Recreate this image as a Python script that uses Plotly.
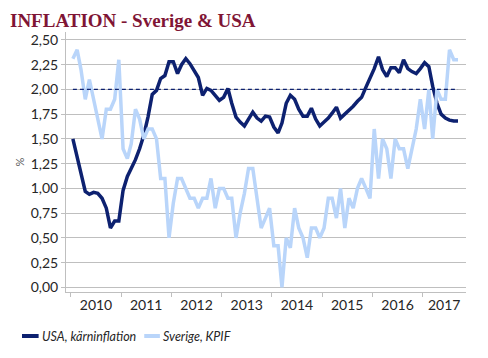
import plotly.graph_objects as go
import pandas as pd

# ---- data (monthly, Jan 2010 - Sep 2017) ----
months = pd.date_range("2010-01-01", periods=93, freq="MS") + pd.Timedelta(days=14)

usa_core = [
    1.50, 1.32, 1.13, 0.97, 0.94, 0.96, 0.95, 0.90, 0.80, 0.60, 0.67, 0.67,
    0.98, 1.12, 1.20, 1.29, 1.40, 1.54, 1.72, 1.95, 1.99, 2.11, 2.14, 2.28,
    2.28, 2.16, 2.25, 2.31, 2.26, 2.19, 2.12, 1.94, 2.01, 1.99, 1.94, 1.89,
    1.92, 2.01, 1.86, 1.72, 1.67, 1.63, 1.70, 1.77, 1.71, 1.68, 1.73, 1.72,
    1.62, 1.56, 1.66, 1.86, 1.94, 1.90, 1.80, 1.73, 1.73, 1.81, 1.70, 1.63,
    1.67, 1.71, 1.76, 1.82, 1.71, 1.75, 1.78, 1.83, 1.88, 1.92, 2.02, 2.11,
    2.21, 2.33, 2.20, 2.13, 2.22, 2.22, 2.17, 2.30, 2.21, 2.18, 2.16, 2.21,
    2.27, 2.23, 2.03, 1.86, 1.75, 1.71, 1.69, 1.68, 1.68,
]

swe_kpif = [
    2.31, 2.40, 2.20, 1.90, 2.10, 1.90, 1.70, 1.50, 1.80, 1.80, 1.90, 2.30,
    1.40, 1.30, 1.45, 1.80, 1.70, 1.50, 1.60, 1.60, 1.50, 1.10, 1.10, 0.50,
    0.85, 1.10, 1.10, 1.00, 0.90, 0.90, 0.80, 0.90, 0.90, 1.10, 0.80, 1.00,
    1.00, 0.90, 0.90, 0.50, 0.75, 0.95, 1.20, 1.20, 0.90, 0.60, 0.70, 0.80,
    0.42, 0.42, 0.00, 0.50, 0.40, 0.80, 0.60, 0.50, 0.30, 0.60, 0.60, 0.50,
    0.60, 0.90, 0.90, 0.70, 1.00, 0.60, 0.90, 0.80, 1.00, 1.10, 1.00, 0.90,
    1.60, 1.10, 1.50, 1.40, 1.10, 1.50, 1.40, 1.40, 1.20, 1.40, 1.60, 1.90,
    1.60, 2.00, 1.50, 2.00, 1.90, 1.90, 2.40, 2.30, 2.30,
]

target = 2.00
y_ticks = [0.00, 0.25, 0.50, 0.75, 1.00, 1.25, 1.50, 1.75, 2.00, 2.25, 2.50]
year_labels = ["2010", "2011", "2012", "2013", "2014", "2015", "2016", "2017"]
# label anchor dates (centre of each year's visible span)
year_label_dates = ["2010-07-02", "2011-07-02", "2012-07-02", "2013-07-02",
                    "2014-07-02", "2015-07-02", "2016-07-02", "2017-06-06"]
series_names = ["USA, kärninflation", "Sverige, KPIF"]

DARK = "#0D2170"
LIGHT = "#B9D5FA"
GRID = "#BFBFBF"
TXT = "#262626"

fig = go.Figure()
fig.add_trace(go.Scatter(x=months, y=usa_core, mode="lines", name=series_names[0],
                         line=dict(color=DARK, width=3.5), showlegend=False))
fig.add_trace(go.Scatter(x=months, y=swe_kpif, mode="lines", name=series_names[1],
                         line=dict(color=LIGHT, width=3.5), showlegend=False))

# target dashed line
fig.add_shape(type="line", xref="x", yref="y", x0=months[0], x1=months[-1],
              y0=target, y1=target, line=dict(color=DARK, width=1.3, dash="4px,3px"),
              layer="above")

# page offset (browser body margin) compensation
OFF = 8
W, H = 488 - OFF, 358 - OFF
L, R, T, B = 57 - OFF, 22, 32 - OFF, 66
pw, ph = W - L - R, H - T - B

def px(xp):
    return (xp - OFF - L) / pw

def py(yp):
    return (H - B - (yp - OFF)) / ph

# custom legend
leg_y = 336
items = [(12, 29, 30, DARK, series_names[0]), (137, 153, 154, LIGHT, series_names[1])]
for x0, x1, xt, col, name in items:
    fig.add_shape(type="line", xref="paper", yref="paper", x0=px(x0), x1=px(x1),
                  y0=py(leg_y), y1=py(leg_y), line=dict(color=col, width=4))
    fig.add_annotation(xref="paper", yref="paper", x=px(xt), y=py(leg_y),
                       xanchor="left", yanchor="middle", showarrow=False,
                       text="<i>" + name + "</i>",
                       font=dict(family="Lato", size=12.5, color=TXT))

fig.update_layout(
    width=W, height=H,
    margin=dict(l=L, r=R, t=T, b=B),
    paper_bgcolor="white", plot_bgcolor="white",
    separators=", ",
    title=dict(text="<b>INFLATION - Sverige & USA</b>", xref="container", yref="container",
               x=(10 - OFF) / W, xanchor="left", y=1 - (20 - OFF) / H, yanchor="middle",
               font=dict(family="Liberation Serif", size=19, color="#7F1535")),
    xaxis=dict(type="date", range=["2009-11-26", "2017-11-12"],
               tickvals=year_label_dates, ticktext=year_labels, ticks="",
               minor=dict(tick0="2010-01-01", dtick="M12", ticks="outside", ticklen=4,
                          tickcolor=GRID, showgrid=False),
               showline=True, linecolor=GRID, linewidth=1, showgrid=False, zeroline=False,
               tickfont=dict(family="Lato", size=14, color=TXT)),
    yaxis=dict(range=[-0.047, 2.58], tickvals=y_ticks, tickformat=".2f",
               showgrid=True, gridcolor=GRID, gridwidth=1, zeroline=False,
               showline=True, linecolor=GRID, linewidth=1,
               ticks="outside", ticklen=4, tickcolor=GRID,
               tickfont=dict(family="Lato", size=14, color=TXT),
               title=dict(text="%", font=dict(family="Lato", size=11, color="#595959"), standoff=3)),
)

fig.write_html("out.html")
